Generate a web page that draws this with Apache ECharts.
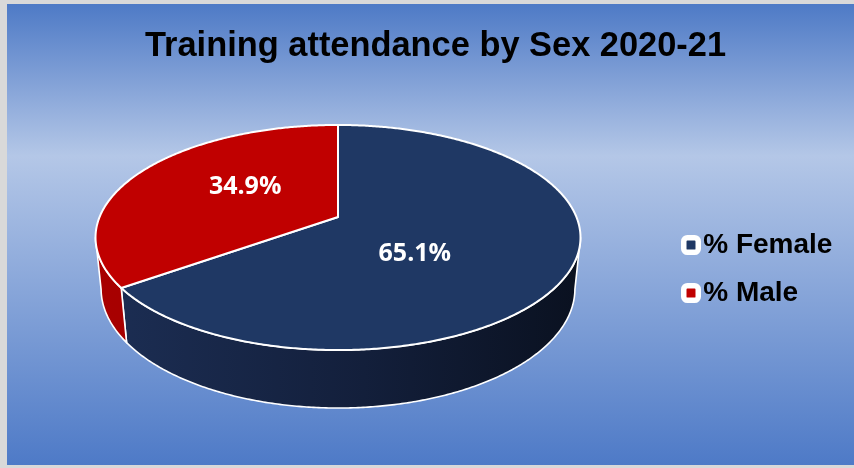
<!DOCTYPE html>
<html>
<head>
<meta charset="utf-8">
<script src="https://cdn.jsdelivr.net/npm/echarts@6.0.0/dist/echarts.min.js"></script>
<style>
  html, body { margin: 0; padding: 0; background: #d9d9d9; }
  #chart { width: 854px; height: 468px; }
</style>
</head>
<body>
<div id="chart"></div>
<script>
// Data
const titleText = 'Training attendance by Sex 2020-21';
const categories = ['% Female', '% Male'];
const shares = [65.1, 34.9];
const topColors = ['#1f3864', '#c00000'];

// Side-wall shading for each slice
const wallStops = [
  [[0, '#1c2e54'], [0.55, '#131f3b'], [1, '#0a1120']],
  [[0, '#a80000'], [1, '#8c0000']]
];

// 3D pie camera: disk centre on screen, focal length, camera distance,
// elevation and disk thickness (in disk radii).
const cam = { cx: 338, cy: 217, F: 1164, L: 4.882, sinA: 0.4564, thick: 0.244 };
cam.cosA = Math.sqrt(1 - cam.sinA * cam.sinA);

const total = shares.reduce((a, b) => a + b, 0);

function project(u, v, y0) {
  const depth = cam.L - y0 * cam.sinA - v * cam.cosA;
  return [
    cam.cx + cam.F * u / depth,
    cam.cy - cam.F * (y0 * cam.cosA - v * cam.sinA) / depth
  ];
}
function rimPoint(deg, y0) {
  const t = deg * Math.PI / 180;
  return project(Math.sin(t), -Math.cos(t), y0);
}
function arc(a, b, y0) {
  const pts = [];
  const n = Math.max(2, Math.ceil(Math.abs(b - a) / 0.5));
  for (let i = 0; i <= n; i++) pts.push(rimPoint(a + (b - a) * i / n, y0));
  return pts;
}

// Front part of the rim that faces the viewer
const vs = cam.cosA / cam.L;
const frontFrom = Math.acos(-vs) * 180 / Math.PI;
const frontTo = 360 - frontFrom;

function renderSlice(params, api) {
  const i = params.seriesIndex;
  let before = 0;
  for (let k = 0; k < i; k++) before += shares[k];
  const start = before / total * 360;
  const end = start + api.value(0) / total * 360;
  const children = [];

  // side wall
  const a = Math.max(start, frontFrom), b = Math.min(end, frontTo);
  if (b > a) {
    const top = arc(a, b, 0);
    const bottom = arc(b, a, -cam.thick);
    const stops = wallStops[i].map(s => ({ offset: s[0], color: s[1] }));
    children.push({
      type: 'polygon',
      z2: 1,
      shape: { points: top.concat(bottom) },
      style: {
        fill: new echarts.graphic.LinearGradient(100, 0, 580, 0, stops, true),
        stroke: '#ffffff',
        lineWidth: 1.6,
        lineJoin: 'round'
      }
    });
  }

  // top face
  const face = [project(0, 0, 0)].concat(arc(start, end, 0));
  children.push({
    type: 'polygon',
    z2: 10,
    shape: { points: face },
    style: { fill: topColors[i], stroke: '#ffffff', lineWidth: 2, lineJoin: 'round' }
  });

  // value label
  const mid = (start + end) / 2 * Math.PI / 180;
  const rx = cam.F / cam.L, ry = cam.F * cam.sinA / cam.L;
  children.push({
    type: 'text',
    z2: 20,
    style: {
      text: api.value(0).toFixed(1) + '%',
      x: cam.cx - 8 + 0.40 * rx * Math.sin(mid),
      y: cam.cy + 3.5 - 0.68 * ry * Math.cos(mid),
      align: 'center',
      verticalAlign: 'middle',
      fill: '#ffffff',
      font: 'bold 25px "Open Sans"'
    }
  });
  return { type: 'group', children: children };
}

const chart = echarts.init(document.getElementById('chart'), null, { renderer: 'canvas' });

chart.setOption({
  animation: false,
  backgroundColor: '#d9d9d9',
  graphic: [{
    type: 'rect',
    z: -10,
    silent: true,
    shape: { x: 7, y: 4, width: 847, height: 461 },
    style: {
      fill: new echarts.graphic.LinearGradient(0, 0, 0, 1, [
        { offset: 0, color: '#4e7ac6' },
        { offset: 0.33, color: '#b4c7e7' },
        { offset: 1, color: '#4e7ac7' }
      ])
    }
  }],
  title: {
    text: titleText,
    left: 145,
    top: 30,
    padding: 0,
    textStyle: {
      fontFamily: '"Liberation Sans", Arial, sans-serif',
      fontWeight: 'bold',
      fontSize: 34.4,
      color: '#000000'
    }
  },
  legend: {
    orient: 'vertical',
    left: 681,
    top: 231,
    padding: 0,
    data: categories,
    icon: 'roundRect',
    itemWidth: 14.5,
    itemHeight: 14.5,
    itemGap: 20,
    itemStyle: { borderColor: '#ffffff', borderWidth: 5.5 },
    textStyle: {
      fontFamily: '"Liberation Sans", Arial, sans-serif',
      fontWeight: 'bold',
      fontSize: 28,
      lineHeight: 28,
      color: '#000000',
      padding: [0, 0, 0, 0]
    }
  },
  series: categories.map((name, i) => ({
    type: 'custom',
    name: name,
    coordinateSystem: 'none',
    itemStyle: { color: topColors[i] },
    renderItem: renderSlice,
    data: [[shares[i]]]
  }))
});
</script>
</body>
</html>
